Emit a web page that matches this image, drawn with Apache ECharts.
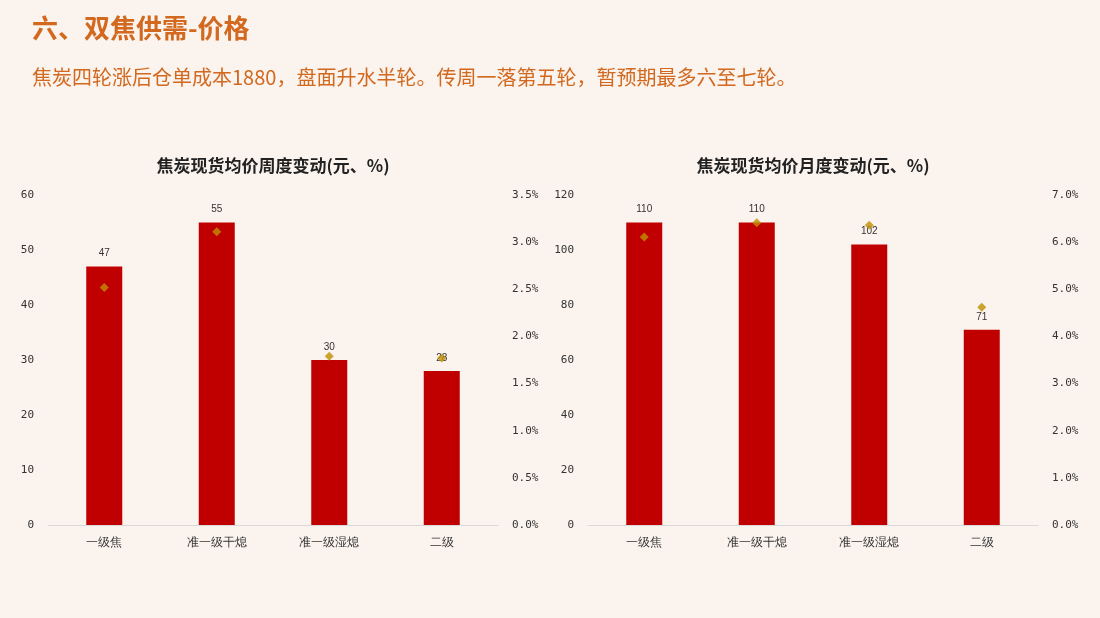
<!DOCTYPE html>
<html><head><meta charset="utf-8">
<script src="https://cdn.jsdelivr.net/npm/echarts@6/dist/echarts.min.js"></script>
<style>
body{margin:0;background:#FAF3EE;width:1100px;height:618px;overflow:hidden;font-family:"Noto Sans CJK SC",sans-serif}
#h1{position:absolute;left:32px;top:8px;font-size:26px;font-weight:bold;color:#D2691E}
#h2{position:absolute;left:32px;top:62px;font-size:20px;color:#D2691E}
#c{position:absolute;left:0;top:0;width:1100px;height:618px}
</style></head><body>
<div id="c"></div>
<div id="h1">六、双焦供需-价格</div>
<div id="h2">焦炭四轮涨后仓单成本1880，盘面升水半轮。传周一落第五轮，暂预期最多六至七轮。</div>
<script>
const categories = ['一级焦', '准一级干熄', '准一级湿熄', '二级']
const weekValues = [47, 55, 30, 28]
const weekPct = [2.52, 3.11, 1.79, 1.77]
const monthValues = [110, 110, 102, 71]
const monthPct = [6.11, 6.41, 6.36, 4.62]

const axisFont = { color: '#333', fontSize: 11, fontFamily: 'DejaVu Sans Mono' }
const chart = echarts.init(document.getElementById('c'))
function block(i, title, left, vals, pct, lMax, lInt, rMax) {
  return {
    title: { text: title, left: left + 220, top: 152, textAlign: 'center',
      textStyle: { fontSize: 17, fontWeight: 'bold', color: '#222', fontFamily: 'Noto Sans CJK SC' } },
    grid: { left: left, width: 450, top: 195, height: 330 },
    x: { type: 'category', gridIndex: i, data: categories,
      axisLine: { lineStyle: { color: '#d9d9d9' } }, axisTick: { show: false },
      axisLabel: { color: '#333', fontSize: 12, margin: 12 } },
    yl: { type: 'value', gridIndex: i, min: 0, max: lMax, interval: lInt,
      splitLine: { show: false }, axisLabel: { ...axisFont, margin: 14 } },
    yr: { type: 'value', gridIndex: i, min: 0, max: rMax, interval: 0.5, position: 'right',
      splitLine: { show: false }, axisLabel: { ...axisFont, margin: 14, formatter: v => v.toFixed(1) + '%' } },
    bar: { type: 'bar', xAxisIndex: i, yAxisIndex: i * 2, data: vals, barWidth: 36,
      itemStyle: { color: '#C00000' },
      label: { show: true, position: 'top', color: '#333', fontSize: 10, distance: 8 } },
    dot: { type: 'scatter', xAxisIndex: i, yAxisIndex: i * 2 + 1, data: pct, symbol: 'diamond',
      symbolSize: 9, itemStyle: { color: '#BF9000' } }
  }
}
const a = block(0, '焦炭现货均价周度变动(元、%)', 48, weekValues, weekPct, 60, 10, 3.5)
const b = block(1, '焦炭现货均价月度变动(元、%)', 588, monthValues, monthPct, 120, 20, 7)
b.yr.interval = 1
chart.setOption({
  animation: false,
  title: [a.title, b.title],
  grid: [a.grid, b.grid],
  xAxis: [a.x, b.x],
  yAxis: [a.yl, a.yr, b.yl, b.yr],
  series: [a.bar, a.dot, b.bar, b.dot]
})
</script></body></html>
